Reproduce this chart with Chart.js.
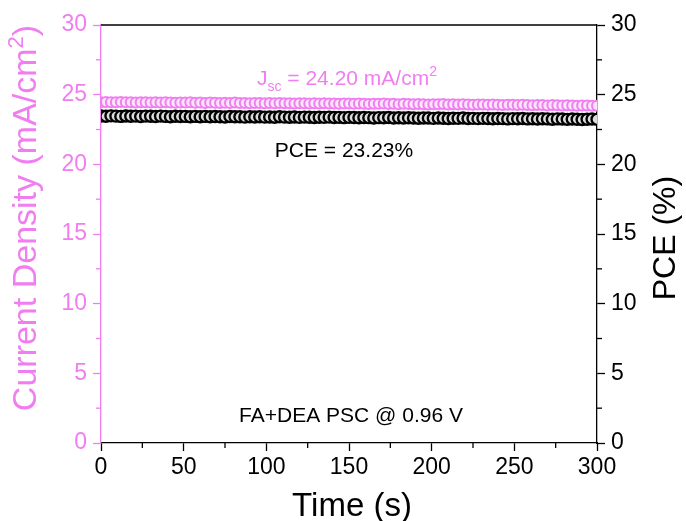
<!DOCTYPE html>
<html>
<head>
<meta charset="utf-8">
<script src="https://cdn.jsdelivr.net/npm/chart.js@4.4.1/dist/chart.umd.min.js"></script>
<style>
  body { margin: 0; background: #fff; }
  canvas { display: block; }
</style>
</head>
<body>
<canvas id="stability" width="686" height="521"></canvas>
<script>
// sampling times (s)
var time = [0, 3, 6, 9, 12, 15, 18, 21, 24, 27,
  30, 33, 36, 39, 42, 45, 48, 51, 54, 57,
  60, 63, 66, 69, 72, 75, 78, 81, 84, 87,
  90, 93, 96, 99, 102, 105, 108, 111, 114, 117,
  120, 123, 126, 129, 132, 135, 138, 141, 144, 147,
  150, 153, 156, 159, 162, 165, 168, 171, 174, 177,
  180, 183, 186, 189, 192, 195, 198, 201, 204, 207,
  210, 213, 216, 219, 222, 225, 228, 231, 234, 237,
  240, 243, 246, 249, 252, 255, 258, 261, 264, 267,
  270, 273, 276, 279, 282, 285, 288, 291, 294, 297, 300];

// current density at 0.96 V (mA/cm2)
var jsc = [24.46, 24.47, 24.45, 24.46, 24.48, 24.45, 24.46, 24.44, 24.46, 24.45,
  24.44, 24.45, 24.43, 24.45, 24.44, 24.42, 24.44, 24.43, 24.45, 24.42,
  24.43, 24.41, 24.43, 24.42, 24.40, 24.42, 24.41, 24.43, 24.40, 24.41,
  24.39, 24.41, 24.40, 24.38, 24.40, 24.39, 24.41, 24.38, 24.39, 24.37,
  24.39, 24.38, 24.36, 24.38, 24.37, 24.39, 24.36, 24.37, 24.35, 24.37,
  24.36, 24.34, 24.36, 24.35, 24.33, 24.35, 24.34, 24.36, 24.33, 24.34,
  24.32, 24.34, 24.33, 24.31, 24.33, 24.32, 24.30, 24.32, 24.31, 24.33,
  24.30, 24.31, 24.29, 24.31, 24.30, 24.28, 24.30, 24.29, 24.27, 24.29,
  24.28, 24.26, 24.28, 24.27, 24.25, 24.27, 24.26, 24.24, 24.26, 24.25,
  24.23, 24.25, 24.24, 24.22, 24.24, 24.23, 24.21, 24.23, 24.22, 24.21, 24.20];

// power conversion efficiency (%)
var pce = [23.47, 23.45, 23.48, 23.46, 23.44, 23.47, 23.45, 23.46, 23.43, 23.46,
  23.45, 23.43, 23.46, 23.44, 23.42, 23.45, 23.43, 23.44, 23.41, 23.44,
  23.42, 23.44, 23.41, 23.43, 23.42, 23.40, 23.43, 23.41, 23.42, 23.39,
  23.41, 23.40, 23.42, 23.39, 23.40, 23.38, 23.41, 23.39, 23.38, 23.40,
  23.37, 23.39, 23.38, 23.36, 23.38, 23.37, 23.39, 23.36, 23.37, 23.35,
  23.37, 23.36, 23.34, 23.36, 23.35, 23.33, 23.35, 23.34, 23.36, 23.33,
  23.34, 23.32, 23.34, 23.33, 23.31, 23.33, 23.32, 23.30, 23.32, 23.31,
  23.29, 23.31, 23.30, 23.32, 23.29, 23.30, 23.28, 23.30, 23.29, 23.27,
  23.29, 23.28, 23.26, 23.28, 23.27, 23.29, 23.26, 23.27, 23.25, 23.27,
  23.26, 23.24, 23.26, 23.25, 23.23, 23.25, 23.24, 23.22, 23.24, 23.25, 23.23];

var yTicks = [0, 5, 10, 15, 20, 25, 30];
var xTicks = [0, 50, 100, 150, 200, 250, 300];

var PINK = '#f07ef0';
var FONT = "'Liberation Sans', Arial, sans-serif";

function pairs(xs, ys) {
  var out = [];
  for (var i = 0; i < xs.length; i++) out.push({x: xs[i], y: ys[i]});
  return out;
}

// text pieces: [text, sizeRatio, baselineShift]
function drawRich(ctx, parts, size, x, y, align) {
  var total = 0;
  parts.forEach(function(p) {
    ctx.font = Math.round(size * p[1]) + 'px ' + FONT;
    total += ctx.measureText(p[0]).width;
  });
  var cx = align === 'center' ? x - total / 2 : x;
  ctx.textAlign = 'left';
  ctx.textBaseline = 'alphabetic';
  parts.forEach(function(p) {
    ctx.font = Math.round(size * p[1]) + 'px ' + FONT;
    ctx.fillText(p[0], cx, y + p[2] * size);
    cx += ctx.measureText(p[0]).width;
  });
}

var decorations = {
  id: 'decorations',
  afterDraw: function(chart) {
    var ctx = chart.ctx;
    var a = chart.chartArea;
    var xs = chart.scales.x, yl = chart.scales.y, yr = chart.scales.y1;
    ctx.save();
    ctx.lineWidth = 1.3;

    // top frame line
    ctx.strokeStyle = '#000';
    ctx.beginPath();
    ctx.moveTo(a.left, a.top);
    ctx.lineTo(a.right, a.top);
    ctx.stroke();

    // minor ticks
    for (var v = 2.5; v < 30; v += 5) {
      var py = yl.getPixelForValue(v);
      ctx.strokeStyle = PINK;
      ctx.beginPath(); ctx.moveTo(a.left, py); ctx.lineTo(a.left - 5, py); ctx.stroke();
      py = yr.getPixelForValue(v);
      ctx.strokeStyle = '#000';
      ctx.beginPath(); ctx.moveTo(a.right, py); ctx.lineTo(a.right + 5, py); ctx.stroke();
    }
    for (var t = 25; t < 300; t += 50) {
      var px = xs.getPixelForValue(t);
      ctx.beginPath(); ctx.moveTo(px, a.bottom); ctx.lineTo(px, a.bottom + 5); ctx.stroke();
    }

    // axis titles
    ctx.fillStyle = PINK;
    ctx.save();
    ctx.translate(36, 218);
    ctx.rotate(-Math.PI / 2);
    drawRich(ctx, [['Current Density (mA/cm', 1, 0], ['2', 0.66, -0.38], [')', 1, 0]], 33.5, 0, 0, 'center');
    ctx.restore();

    ctx.fillStyle = '#000';
    ctx.save();
    ctx.translate(675, 238);
    ctx.rotate(-Math.PI / 2);
    drawRich(ctx, [['PCE (%)', 1, 0]], 32, 0, 0, 'center');
    ctx.restore();

    drawRich(ctx, [['Time (s)', 1, 0]], 33, 352, 516, 'center');

    // annotations
    ctx.fillStyle = PINK;
    drawRich(ctx, [['J', 1, 0], ['sc', 0.68, 0.28], [' = 24.20 mA/cm', 1, 0], ['2', 0.68, -0.42]], 20.5, 257, 85, 'left');
    ctx.fillStyle = '#000';
    drawRich(ctx, [['PCE = 23.23%', 1, 0]], 21, 344, 157, 'center');
    drawRich(ctx, [['FA+DEA PSC @ 0.96 V', 1, 0]], 21, 351, 422, 'center');
    ctx.restore();
  }
};

var ctx = document.getElementById('stability').getContext('2d');
var chart = new Chart(ctx, {
  type: 'scatter',
  data: {
    datasets: [
      {
        label: 'Jsc',
        data: pairs(time, jsc),
        yAxisID: 'y',
        order: 2,
        pointRadius: 5,
        pointBorderWidth: 2,
        borderColor: PINK,
        backgroundColor: '#fbe6fb'
      },
      {
        label: 'PCE',
        data: pairs(time, pce),
        yAxisID: 'y1',
        order: 1,
        pointRadius: 5.5,
        pointBorderWidth: 2.4,
        borderColor: '#000',
        backgroundColor: '#ddd'
      }
    ]
  },
  options: {
    responsive: false,
    animation: false,
    layout: { padding: { top: 25, left: 0, right: 0, bottom: 0 } },
    plugins: {
      legend: { display: false },
      tooltip: { enabled: false }
    },
    scales: {
      x: {
        type: 'linear',
        min: 0,
        max: 300,
        afterBuildTicks: function(s) { s.ticks = xTicks.map(function(v) { return {value: v}; }); },
        afterFit: function(s) { s.height = 78; },
        border: { color: '#000', width: 1.3 },
        grid: { drawOnChartArea: false, tickLength: 8, tickColor: '#000', tickWidth: 1.3 },
        ticks: { color: '#000', font: { size: 23, family: FONT }, padding: 3, maxRotation: 0 }
      },
      y: {
        position: 'left',
        min: 0,
        max: 30,
        afterBuildTicks: function(s) { s.ticks = yTicks.map(function(v) { return {value: v}; }); },
        afterFit: function(s) { s.width = 101; },
        border: { color: PINK, width: 1.3 },
        grid: { drawOnChartArea: false, tickLength: 8, tickColor: PINK, tickWidth: 1.3 },
        ticks: { color: PINK, font: { size: 23, family: FONT }, padding: 6 }
      },
      y1: {
        position: 'right',
        min: 0,
        max: 30,
        afterBuildTicks: function(s) { s.ticks = yTicks.map(function(v) { return {value: v}; }); },
        afterFit: function(s) { s.width = 89; },
        border: { color: '#000', width: 1.3 },
        grid: { drawOnChartArea: false, tickLength: 8, tickColor: '#000', tickWidth: 1.3 },
        ticks: { color: '#000', font: { size: 23, family: FONT }, padding: 6 }
      }
    }
  },
  plugins: [decorations]
});
</script>
</body>
</html>
